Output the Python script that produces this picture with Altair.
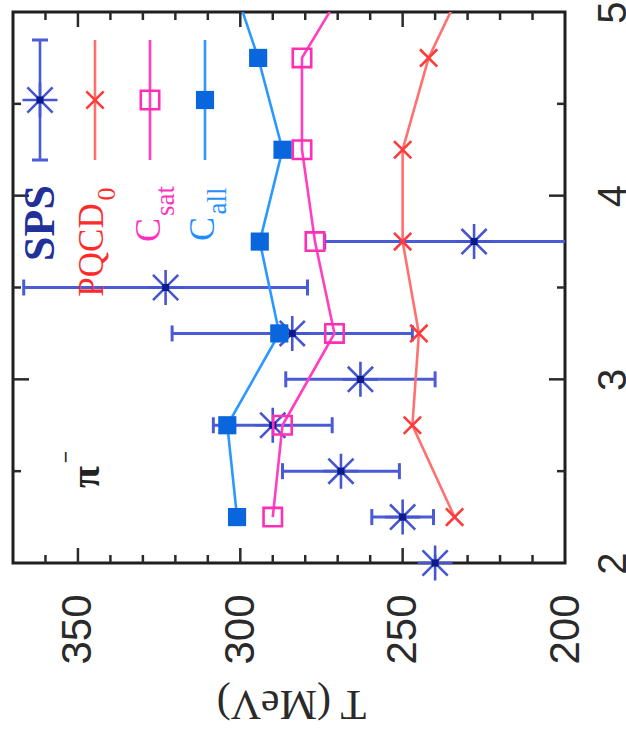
import altair as alt
import pandas as pd

# ---------------- data ----------------
sps_mass = [2.0, 2.25, 2.5, 2.75, 3.0, 3.25, 3.5, 3.75]
sps_T = [240, 250, 269, 290, 263, 284, 323, 228]
sps_err = [0, 9.5, 18, 18.3, 23, 37, 43.7, 46]

model_mass = [2.25, 2.75, 3.25, 3.75, 4.25, 4.75, 5.25]
pqcd_T = [234, 247, 245, 250, 250, 242, 228.5]
csat_T = [290, 287, 271, 277, 281, 281, 264]
call_T = [301, 304, 288, 294, 287, 294.5, 304]

T_tick_labels = [200, 250, 300, 350]
m_tick_labels = [2, 3, 4, 5]
T_major = [250, 300, 350]
T_minor = [210, 220, 230, 240, 260, 270, 280, 290, 310, 320, 330, 340, 360]
m_major = [3, 4]
m_minor = [2.5, 3.5, 4.5]

legend_names = ["SPS", "PQCD", "C", "C"]
legend_subs = ["", "0", "sat", "all"]

# ---------------- styling ----------------
W, H = 552, 551
T_DOM = [200, 370]
M_DOM = [2, 5]
TICK = "#2a2a2a"
SPS_BAR = "#4a5bd6"
SPS_STAR = "#4656d0"
NAVY = "#0b1a8c"
PQCD_LINE = "#ff7070"
PQCD_MARK = "#ff3a3a"
CSAT_LINE = "#ff3fbf"
CSAT_MARK = "#ff2fb5"
CALL_LINE = "#2a98ff"
CALL_MARK = "#0a66dd"

STAR = "M-1,0L1,0M0,-1L0,1M-0.72,-0.72L0.72,0.72M-0.72,0.72L0.72,-0.72"
XSHAPE = "M-1,-1L1,1M-1,1L1,-1"
VBAR = "M0,-1L0,1"
HBAR = "M-1,0L1,0"

xscale = alt.Scale(domain=T_DOM, reverse=True, nice=False, zero=False)
yscale = alt.Scale(domain=M_DOM, nice=False, zero=False)

xaxis = alt.Axis(
    values=T_tick_labels, labelAngle=270, labelAlign="right", labelBaseline="middle",
    labelFont="Liberation Sans", labelFontSize=42, labelColor=TICK, labelPadding=31,
    labelFlush=False, labelOverlap=False, ticks=False, tickSize=0, domain=False, grid=False,
    title="T (MeV)", titleFont="Liberation Serif", titleFontSize=42, titleFontWeight="normal",
    titleColor=TICK, titleAngle=180, titleAlign="center", titleBaseline="middle",
    titleX=278, titleY=140,
)
yaxis = alt.Axis(
    orient="right", values=m_tick_labels, labelAngle=270, labelAlign="center",
    labelBaseline="top", labelFont="Liberation Sans", labelFontSize=40, labelColor=TICK,
    labelPadding=28, labelFlush=False, labelOverlap=False, ticks=False, tickSize=0,
    domain=False, grid=False, title="",
)


def ex(f):
    return alt.X(f"{f}:Q", scale=xscale, axis=xaxis)


def ey(f="m"):
    return alt.Y(f"{f}:Q", scale=yscale, axis=yaxis)


layers = []

# ---- frame ticks (inward), lengths converted from pixels to data units ----
t_per_px = (T_DOM[1] - T_DOM[0]) / W
m_per_px = (M_DOM[1] - M_DOM[0]) / H
for vals, L in [(T_major, 15), (T_minor, 8)]:
    for edge, sign in [(M_DOM[1], -1), (M_DOM[0], 1)]:
        d = pd.DataFrame({"T": vals})
        d["m"] = edge
        d["m2"] = edge + sign * L * m_per_px
        layers.append(alt.Chart(d).mark_rule(color=TICK, strokeWidth=2.5).encode(
            x=ex("T"), y=ey("m"), y2="m2:Q"))
for vals, L in [(m_major, 16), (m_minor, 8)]:
    for edge, sign in [(T_DOM[1], -1), (T_DOM[0], 1)]:
        d = pd.DataFrame({"m": vals})
        d["T"] = edge
        d["T2"] = edge + sign * L * t_per_px
        layers.append(alt.Chart(d).mark_rule(color=TICK, strokeWidth=2.5).encode(
            y=ey("m"), x=ex("T"), x2="T2:Q"))

# ---- SPS data with errors ----
sps = pd.DataFrame({"m": sps_mass, "T": sps_T, "err": sps_err})
sps["lo"] = sps["T"] - sps["err"]
sps["hi"] = sps["T"] + sps["err"]
bars = alt.Chart(sps).transform_filter("datum.err > 0")
layers.append(bars.mark_rule(color=SPS_BAR, strokeWidth=3, clip=True).encode(
    x=ex("lo"), x2="hi:Q", y=ey()))
for f in ["lo", "hi"]:
    layers.append(bars.mark_point(shape=VBAR, size=256, filled=False, strokeWidth=3,
                                  color=SPS_BAR, opacity=1, clip=True).encode(x=ex(f), y=ey()))
layers.append(alt.Chart(sps).mark_point(shape=STAR, size=1225, filled=False, strokeWidth=2.6,
                                        color=SPS_STAR, opacity=1).encode(x=ex("T"), y=ey()))
layers.append(alt.Chart(sps).mark_square(size=49, color=NAVY, opacity=1).encode(x=ex("T"), y=ey()))

# ---- model curves ----
models = [
    (pqcd_T, PQCD_LINE, dict(shape=XSHAPE, size=300, filled=False, strokeWidth=2.6, color=PQCD_MARK)),
    (csat_T, CSAT_LINE, dict(shape="square", size=340, filled=False, strokeWidth=2.6, color=CSAT_MARK)),
    (call_T, CALL_LINE, dict(shape="square", size=330, filled=True, color=CALL_MARK)),
]
for Ts, lc, mk in models:
    d = pd.DataFrame({"m": model_mass, "T": Ts})
    layers.append(alt.Chart(d).mark_line(color=lc, strokeWidth=2.6, clip=True).encode(
        x=ex("T"), y=ey(), order=alt.Order("m:Q")))
    layers.append(alt.Chart(d).mark_point(opacity=1, clip=True, **mk).encode(x=ex("T"), y=ey()))

# ---- legend (drawn rotated like the figure) ----
one = pd.DataFrame({"k": [0]})
leg_x = [27, 82, 137, 192]
bar_cols = [SPS_BAR, PQCD_LINE, CSAT_LINE, CALL_LINE]
for i in range(4):
    layers.append(alt.Chart(one).mark_rule(color=bar_cols[i], strokeWidth=2.6).encode(
        x=alt.value(leg_x[i]), y=alt.value(28), y2=alt.value(148)))
for yy in [28, 148]:
    layers.append(alt.Chart(one).mark_point(shape=HBAR, size=256, filled=False, strokeWidth=3,
                                            color=SPS_BAR, opacity=1).encode(
        x=alt.value(leg_x[0]), y=alt.value(yy)))
layers.append(alt.Chart(one).mark_point(shape=STAR, size=1225, filled=False, strokeWidth=2.6,
                                        color=SPS_STAR, opacity=1).encode(
    x=alt.value(leg_x[0]), y=alt.value(88)))
layers.append(alt.Chart(one).mark_square(size=49, color=NAVY, opacity=1).encode(
    x=alt.value(leg_x[0]), y=alt.value(88)))
for i, (_, _, mk) in enumerate(models):
    layers.append(alt.Chart(one).mark_point(opacity=1, **mk).encode(
        x=alt.value(leg_x[i + 1]), y=alt.value(88)))

text_specs = [
    # text, x, y, size, weight, color, font
    (legend_names[0], 28, 211, 44, "bold", "#22309a", "Liberation Serif"),
    (legend_names[1], 79, 238, 35, "normal", "#ff2a2a", "Liberation Serif"),
    (legend_subs[1], 94, 182, 26, "normal", "#ff2a2a", "Liberation Serif"),
    (legend_names[2], 136, 218, 36, "normal", "#ff2fc0", "Liberation Serif"),
    (legend_subs[2], 153, 189, 27, "normal", "#ff2fc0", "Liberation Serif"),
    (legend_names[3], 190, 217, 36, "normal", "#1e8fff", "Liberation Serif"),
    (legend_subs[3], 205, 189, 27, "normal", "#1e8fff", "Liberation Serif"),
    ("π", 74, 465, 40, "bold", "#222222", "Liberation Serif"),
    ("−", 53, 445, 22, "bold", "#222222", "Liberation Serif"),
]
for t, x, y, s, w, c, f in text_specs:
    layers.append(alt.Chart(one).mark_text(
        text=t, angle=270, align="center", baseline="middle", font=f, fontSize=s,
        fontWeight=w, color=c).encode(x=alt.value(x), y=alt.value(y)))

chart = alt.layer(*layers).properties(
    width=W, height=H,
    autosize=alt.AutoSizeParams(type="none"),
    padding={"left": 13, "top": 12, "right": 61, "bottom": 179},
    background="white",
).configure_view(stroke="#1e1e1e", strokeWidth=3)

chart.save("out.html", embed_options={"renderer": "svg", "actions": False})
